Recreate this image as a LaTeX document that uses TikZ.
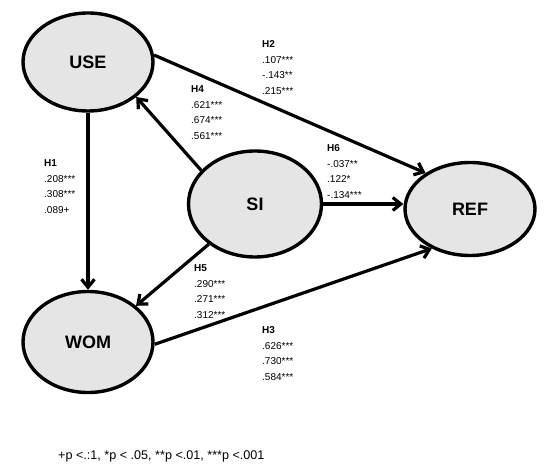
\documentclass[tikz,border=0pt]{standalone}
\usepackage{fontspec}
\setmainfont{Liberation Sans}
\usepackage{tikz}
\usetikzlibrary{arrows.meta,shapes}

\tikzset{
  construct/.style={ellipse, draw, line width=3.4pt, fill=black!10, inner sep=0pt,
    minimum width=130pt, minimum height=98pt, font=\fontsize{18}{20}\selectfont\bfseries},
  path/.style={line width=3.2pt, -{Straight Barb[length=8pt,width=13pt,line width=3.2pt]}},
  coef/.style={anchor=base west, align=left, inner sep=0pt, font=\fontsize{10}{15.5}\selectfont}
}

\begin{document}
\begin{tikzpicture}[x=1pt,y=-1pt]
  \useasboundingbox (0,0) rectangle (552,470);

  \node[construct] (USE) at (88,62) {USE};  %Use construct
  \node[construct, minimum width=133pt, minimum height=106pt] (SI) at (255,204) {SI};  %Social influence
  \node[construct, minimum height=93pt] (REF) at (470,209) {REF};  %Referral
  \node[construct, minimum height=101pt] (WOM) at (88,342) {WOM};  %Word of mouth

  \draw[path] (USE.south) -- (WOM.north);  %H1
  \draw[path] (USE.6) -- (REF.141);  %H2
  \draw[path] (WOM.-2) -- (REF.226);  %H3
  \draw[path] (SI.148) -- (USE.-36);  %H4
  \draw[path] (SI.221) -- (WOM.37);  %H5
  \draw[path] (SI.east) -- (SI.east -| REF.west);  %H6

  % coefficients: placed at the baseline of their last line
  \node[coef] (lblH1) at (44,213.5) {\textbf{H1}\\.208***\\.308***\\.089+};
  \node[coef] (lblH2) at (262,94.5) {\textbf{H2}\\.107***\\-.143**\\.215***};
  \node[coef] (lblH3) at (262,380.5) {\textbf{H3}\\.626***\\.730***\\.584***};
  \node[coef] (lblH4) at (191,139.5) {\textbf{H4}\\.621***\\.674***\\.561***};
  \node[coef] (lblH5) at (194,318.5) {\textbf{H5}\\.290***\\.271***\\.312***};
  \node[coef] (lblH6) at (327,198.5) {\textbf{H6}\\-.037**\\.122*\\-.134***};

  \node[anchor=base west, inner sep=0pt, font=\fontsize{12.6}{14}\selectfont] (note) at (58,460)
    {+p <.:1, *p < .05, **p <.01, ***p <.001};  %Significance levels
\end{tikzpicture}
\end{document}
